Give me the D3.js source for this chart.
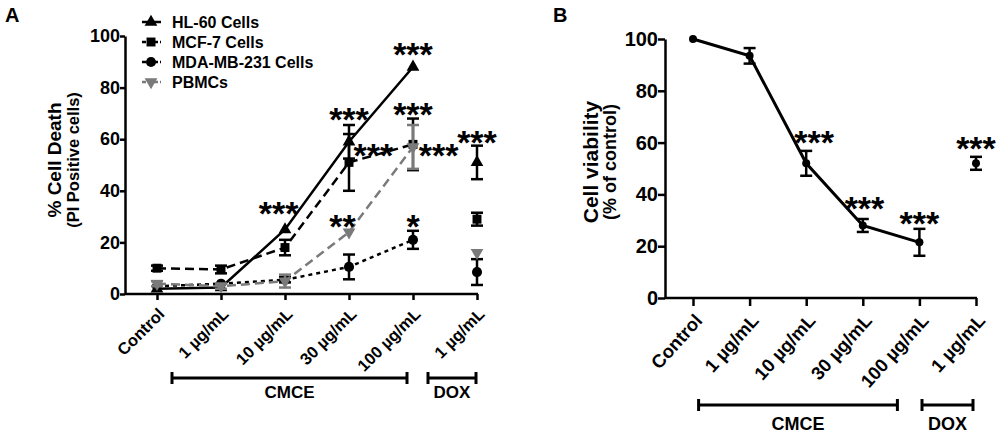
<!DOCTYPE html>
<html>
<head>
<meta charset="utf-8">
<script src="https://cdn.jsdelivr.net/npm/d3@7"></script>
<style>
  body { margin: 0; background: #fff; }
  svg { font-family: "Liberation Sans", Arial, sans-serif; font-weight: bold; }
</style>
</head>
<body>
<div class="chart"></div>
<script>
// doses (x categories), same for both panels
let doseIds = ["ctrl", "c1", "c10", "c30", "c100", "dox1"];
let doseLabels = ["Control", "1 µg/mL", "10 µg/mL", "30 µg/mL", "100 µg/mL", "1 µg/mL"];
let yTicks = [0, 20, 40, 60, 80, 100];
let groupNames = ["CMCE", "DOX"];
let groupFrom = ["c1", "dox1"];
let groupTo = ["c100", "dox1"];

// panel A: % cell death (PI positive)
let seriesNames = ["HL-60 Cells", "MCF-7 Cells", "MDA-MB-231 Cells", "PBMCs"];
let hl60Mean = [2, 2.5, 25, 59, 88, 51];
let hl60Err = [0, 0, 0, 6.5, 0, 6.5];
let mcf7Mean = [10, 9.5, 18, 51, 58, 29];
let mcf7Err = [1, 1.5, 3, 11, 10, 2.5];
let mdaMean = [3, 4, 5.5, 10.5, 21, 8.5];
let mdaErr = [0, 0, 1, 4.8, 3.5, 5];
let pbmcMean = [4, 3, 5, 24, 57, 16];
let pbmcErr = [1, 1, 2.5, 0, 8.5, 0];

let starsALabel = ["***", "***", "***", "***", "***", "***", "***", "**", "*"];
let starsADose = ["c100", "c30", "c30", "c100", "c100", "dox1", "c10", "c30", "c100"];
let starsAShift = [0, 0, 0.38, 0, 0.4, 0, -0.1, -0.1, 0];
let starsAY = [96, 71, 57, 73, 57, 62, 34.5, 29.5, 29.5];

// panel B: viability
let viabilityMean = [100, 93.5, 52, 28, 21.5, 52];
let viabilityErr = [0, 3, 4.8, 2.5, 5.2, 2.5];
let starsBLabel = ["***", "***", "***", "***"];
let starsBDose = ["c10", "c30", "c100", "dox1"];
let starsBShift = [0.14, 0.03, 0, 0];
let starsBY = [63.5, 38, 32, 61];

let W = 1000, H = 436;
let svg = d3.select(".chart").append("svg")
            .attr("width", W)
            .attr("height", H)
            .style("display", "block");

let seriesStyle = [
  {color: "#000", dash: null, symbol: d3.symbolTriangle, size: 70, rotate: 0},
  {color: "#000", dash: "9,5", symbol: d3.symbolSquare, size: 80, rotate: 0},
  {color: "#000", dash: "4,4", symbol: d3.symbolCircle, size: 80, rotate: 0},
  {color: "#7a7a7a", dash: "9,5", symbol: d3.symbolTriangle, size: 70, rotate: 180}
];
let seriesMean = [hl60Mean, mcf7Mean, mdaMean, pbmcMean];
let seriesErr = [hl60Err, mcf7Err, mdaErr, pbmcErr];

function drawFrame(g, cfg){
  let xScale = d3.scalePoint().domain(doseIds).range([cfg.x0, cfg.x1]);
  let yScale = d3.scaleLinear().domain([0, 100]).range([cfg.y0, cfg.y1]);

  let yAxis = d3.axisLeft(yScale).tickValues(yTicks).tickSize(cfg.tick).tickSizeOuter(0).tickPadding(0);
  let yAxisGroup = g.append("g").attr("transform", "translate(" + cfg.axisX + ",0)").call(yAxis);
  yAxisGroup.selectAll("text").style("font-size", cfg.tickFont + "px").attr("fill", "#000");

  let xAxis = d3.axisBottom(xScale).tickSize(cfg.tick + 1).tickFormat((d, i) => doseLabels[i]);
  let xAxisGroup = g.append("g").attr("transform", "translate(0," + cfg.y0 + ")").call(xAxis);
  xAxisGroup.select(".domain").remove();
  xAxisGroup.selectAll("text")
            .attr("x", 0).attr("y", 0).attr("dy", "0.35em")
            .style("text-anchor", "end")
            .style("font-size", cfg.labelFont + "px")
            .attr("fill", "#000")
            .attr("transform", "translate(" + cfg.labelDx + "," + cfg.labelDy + ") rotate(" + cfg.angle + ")");
  g.append("line")
   .attr("x1", cfg.axisX).attr("x2", cfg.x1 + 1)
   .attr("y1", cfg.y0).attr("y2", cfg.y0)
   .attr("stroke", "#000").attr("stroke-width", 2.5);
  g.selectAll(".tick line").attr("stroke-width", 2.5);
  g.selectAll(".domain").attr("stroke-width", 2.5);

  // CMCE / DOX brackets
  groupNames.forEach(function(name, i){
    let bx1 = xScale(groupFrom[i]) - cfg.brLeft[i];
    let bx2 = xScale(groupTo[i]) - cfg.brRight[i];
    let br = g.append("g").attr("stroke", "#000").attr("stroke-width", 3);
    br.append("line").attr("x1", bx1).attr("x2", bx2).attr("y1", cfg.brY).attr("y2", cfg.brY);
    br.append("line").attr("x1", bx1).attr("x2", bx1).attr("y1", cfg.brY - 6).attr("y2", cfg.brY + 6);
    br.append("line").attr("x1", bx2).attr("x2", bx2).attr("y1", cfg.brY - 6).attr("y2", cfg.brY + 6);
    g.append("text")
     .text(name)
     .attr("x", (bx1 + bx2) / 2)
     .attr("y", cfg.brTextY)
     .style("text-anchor", "middle")
     .style("font-size", cfg.groupFont + "px");
  });

  // y label, two lines
  g.append("text")
   .text(cfg.title1)
   .attr("transform", "translate(" + cfg.titleX1 + "," + cfg.titleY + ") rotate(-90)")
   .style("text-anchor", "middle")
   .style("font-size", cfg.titleFont1 + "px");
  g.append("text")
   .text(cfg.title2)
   .attr("transform", "translate(" + cfg.titleX2 + "," + cfg.titleY + ") rotate(-90)")
   .style("text-anchor", "middle")
   .style("font-size", cfg.titleFont2 + "px");

  g.append("text").text(cfg.letter)
   .attr("x", cfg.letterX).attr("y", 22)
   .style("font-size", "20px");

  return {x: xScale, y: yScale};
}

function drawErrors(g, xScale, yScale, mean, err, color, cap){
  let bars = g.append("g").attr("stroke", color).attr("stroke-width", 2.5);
  mean.forEach(function(m, i){
    if (err[i] <= 0) return;
    let cx = xScale(doseIds[i]);
    let top = yScale(m + err[i]);
    let bot = yScale(m - err[i]);
    bars.append("line").attr("x1", cx).attr("x2", cx).attr("y1", top).attr("y2", bot);
    bars.append("line").attr("x1", cx - cap).attr("x2", cx + cap).attr("y1", top).attr("y2", top);
    bars.append("line").attr("x1", cx - cap).attr("x2", cx + cap).attr("y1", bot).attr("y2", bot);
  });
}

function drawStars(g, xScale, yScale, labels, doses, shifts, ys){
  let step = xScale.step();
  labels.forEach(function(s, i){
    g.append("text")
     .text(s)
     .attr("x", xScale(doses[i]) + shifts[i] * step)
     .attr("y", yScale(ys[i]) + 20)
     .style("text-anchor", "middle")
     .style("font-size", "34px");
  });
}

// ---------- panel A ----------
let gA = svg.append("g").attr("class", "panelA");
let sA = drawFrame(gA, {
  x0: 157, x1: 477, y0: 294, y1: 36, axisX: 125, tick: 5,
  tickFont: 18, labelFont: 16.5, labelDx: 4, labelDy: 17, angle: -45,
  brLeft: [49, 49], brRight: [6, 1], brY: 378, brTextY: 398, groupFont: 17,
  title1: "% Cell Death", title2: "(PI Positive cells)",
  titleX1: 61, titleX2: 79, titleY: 160, titleFont1: 19, titleFont2: 16.5,
  letter: "A", letterX: 5
});

let lineA = d3.line()
              .x((d, i) => sA.x(doseIds[i]))
              .y(d => sA.y(d));

seriesMean.forEach(function(mean, k){
  let st = seriesStyle[k];
  let gs = gA.append("g").attr("class", "series");
  // connected CMCE curve (control..100), DOX stands alone
  gs.append("path")
    .attr("d", lineA(mean.slice(0, 5)))
    .attr("fill", "none")
    .attr("stroke", st.color)
    .attr("stroke-width", 2.5)
    .attr("stroke-dasharray", st.dash);
  drawErrors(gs, sA.x, sA.y, mean, seriesErr[k], st.color, 6);
  gs.selectAll(".marker")
    .data(mean)
    .enter()
    .append("path")
    .attr("class", "marker")
    .attr("d", d3.symbol().type(st.symbol).size(st.size))
    .attr("fill", st.color)
    .attr("transform", (d, i) => "translate(" + sA.x(doseIds[i]) + "," + sA.y(d) + ") rotate(" + st.rotate + ")");
});

// legend
let legend = gA.append("g").attr("class", "legend");
seriesNames.forEach(function(name, k){
  let st = seriesStyle[k];
  let ly = 22 + k * 20;
  legend.append("line")
        .attr("x1", 142).attr("x2", 161).attr("y1", ly).attr("y2", ly)
        .attr("stroke", st.color).attr("stroke-width", 2.5)
        .attr("stroke-dasharray", st.dash ? "4,2" : null);
  legend.append("path")
        .attr("d", d3.symbol().type(st.symbol).size(st.size))
        .attr("fill", st.color)
        .attr("transform", "translate(151," + ly + ") rotate(" + st.rotate + ")");
  legend.append("text")
        .text(name)
        .attr("x", 172)
        .attr("y", ly + 6)
        .style("font-size", "16px");
});

drawStars(gA, sA.x, sA.y, starsALabel, starsADose, starsAShift, starsAY);

// ---------- panel B ----------
let gB = svg.append("g").attr("class", "panelB");
let sB = drawFrame(gB, {
  x0: 693, x1: 976, y0: 298, y1: 39, axisX: 665, tick: 7,
  tickFont: 20, labelFont: 18.5, labelDx: 5, labelDy: 19, angle: -48,
  brLeft: [51, 54], brRight: [22, 3], brY: 405, brTextY: 430, groupFont: 18,
  title1: "Cell viability", title2: "(% of control)",
  titleX1: 598, titleX2: 616, titleY: 162, titleFont1: 21, titleFont2: 18,
  letter: "B", letterX: 553
});

let lineB = d3.line()
              .x((d, i) => sB.x(doseIds[i]))
              .y(d => sB.y(d));
gB.append("path")
  .attr("d", lineB(viabilityMean.slice(0, 5)))
  .attr("fill", "none")
  .attr("stroke", "#000")
  .attr("stroke-width", 3);
drawErrors(gB, sB.x, sB.y, viabilityMean, viabilityErr, "#000", 6);
gB.selectAll(".marker")
  .data(viabilityMean)
  .enter()
  .append("circle")
  .attr("class", "marker")
  .attr("cx", (d, i) => sB.x(doseIds[i]))
  .attr("cy", d => sB.y(d))
  .attr("r", 4)
  .attr("fill", "#000");

drawStars(gB, sB.x, sB.y, starsBLabel, starsBDose, starsBShift, starsBY);
</script>
</body>
</html>
